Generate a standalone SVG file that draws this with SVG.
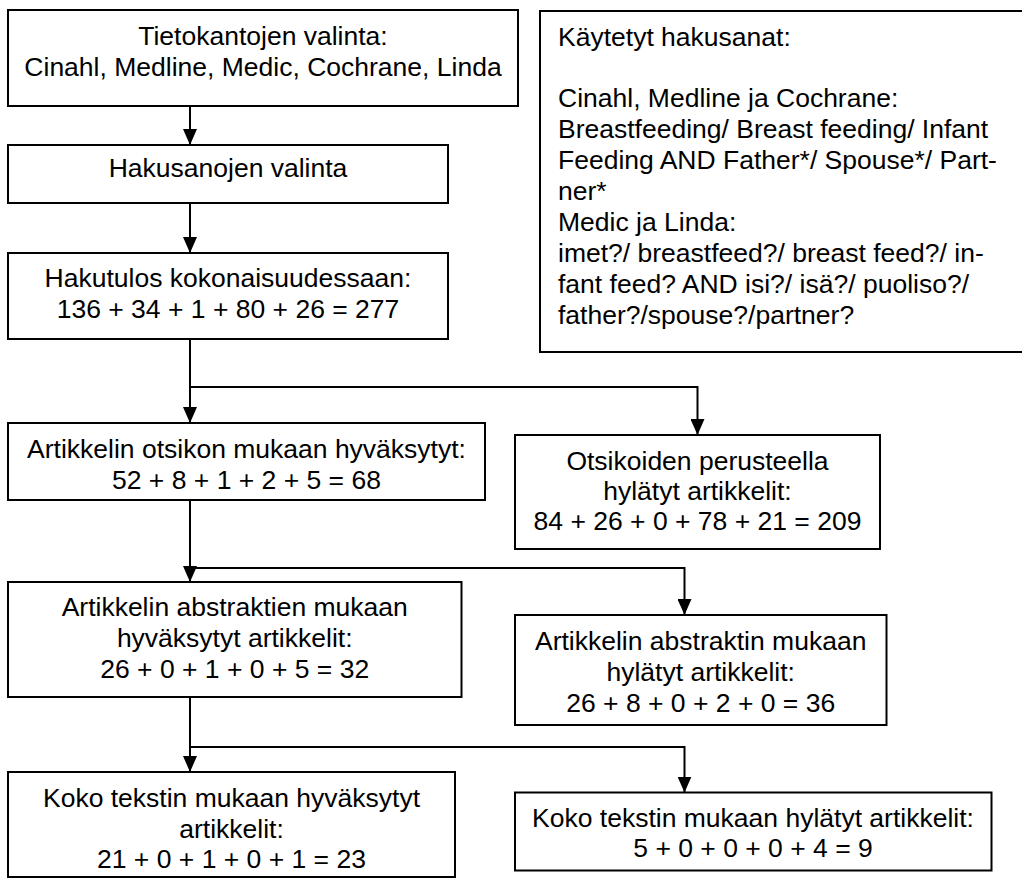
<svg xmlns="http://www.w3.org/2000/svg" width="1022" height="878" viewBox="0 0 1022 878">
<style>
rect.box{fill:#fff;stroke:#000;stroke-width:2}
text{font-family:"Liberation Sans",Arial,sans-serif;font-size:26.5px;fill:#000}
text.c{text-anchor:middle}
.conn path{fill:none;stroke:#000;stroke-width:2}
</style>
<defs>
<marker id="ah" viewBox="0 0 16 14" refX="16" refY="7" markerWidth="16" markerHeight="14" orient="auto" markerUnits="userSpaceOnUse">
<path d="M0,0 L16,7 L0,14 z" fill="#000"/>
</marker>
</defs>
<rect width="1022" height="878" fill="#fff"/>
<g class="conn" id="connectors">
<path d="M190,106 V145" marker-end="url(#ah)"/>
<path d="M190,203 V253" marker-end="url(#ah)"/>
<path d="M190,339 V423" marker-end="url(#ah)"/>
<path d="M190,387 H697.5 V435" marker-end="url(#ah)"/>
<path d="M190,500 V582" marker-end="url(#ah)"/>
<path d="M190,568 H684.5 V615" marker-end="url(#ah)"/>
<path d="M190,697 V772" marker-end="url(#ah)"/>
<path d="M190,747 H684.5 V792.5" marker-end="url(#ah)"/>
</g>
<g id="n1">
<rect class="box" x="8" y="10" width="510" height="96"/>
<text class="c" x="263" y="45">Tietokantojen valinta:</text>
<text class="c" x="263" y="76">Cinahl, Medline, Medic, Cochrane, Linda</text>
</g>
<g id="n2">
<rect class="box" x="8" y="145" width="440" height="58"/>
<text class="c" x="228" y="177">Hakusanojen valinta</text>
</g>
<g id="n3">
<rect class="box" x="8" y="253" width="440" height="86"/>
<text class="c" x="228" y="287">Hakutulos kokonaisuudessaan:</text>
<text class="c" x="228" y="318">136 + 34 + 1 + 80 + 26 = 277</text>
</g>
<g id="keywords">
<rect class="box" x="540" y="11" width="490" height="341"/>
<text x="558" y="45.5">Käytetyt hakusanat:</text>
<text x="558" y="107.3">Cinahl, Medline ja Cochrane:</text>
<text x="558" y="138.2">Breastfeeding/ Breast feeding/ Infant</text>
<text x="558" y="169.1">Feeding AND Father*/ Spouse*/ Part-</text>
<text x="558" y="200">ner*</text>
<text x="558" y="230.9">Medic ja Linda:</text>
<text x="558" y="261.8">imet?/ breastfeed?/ breast feed?/ in-</text>
<text x="558" y="292.7">fant feed? AND isi?/ isä?/ puoliso?/</text>
<text x="558" y="323.6">father?/spouse?/partner?</text>
</g>
<g id="n4">
<rect class="box" x="8" y="423" width="477" height="77"/>
<text class="c" x="246.5" y="457.5">Artikkelin otsikon mukaan hyväksytyt:</text>
<text class="c" x="246.5" y="488.5">52 + 8 + 1 + 2 + 5 = 68</text>
</g>
<g id="n5">
<rect class="box" x="515" y="435" width="365" height="114"/>
<text class="c" x="697.5" y="470">Otsikoiden perusteella</text>
<text class="c" x="697.5" y="500">hylätyt artikkelit:</text>
<text class="c" x="697.5" y="530">84 + 26 + 0 + 78 + 21 = 209</text>
</g>
<g id="n6">
<rect class="box" x="8" y="582" width="453.5" height="115"/>
<text class="c" x="234.7" y="616">Artikkelin abstraktien mukaan</text>
<text class="c" x="234.7" y="647">hyväksytyt artikkelit:</text>
<text class="c" x="234.7" y="678">26 + 0 + 1 + 0 + 5 = 32</text>
</g>
<g id="n7">
<rect class="box" x="515" y="615" width="371.5" height="110"/>
<text class="c" x="700.7" y="650">Artikkelin abstraktin mukaan</text>
<text class="c" x="700.7" y="681">hylätyt artikkelit:</text>
<text class="c" x="700.7" y="712">26 + 8 + 0 + 2 + 0 = 36</text>
</g>
<g id="n8">
<rect class="box" x="8" y="772" width="447" height="105"/>
<text class="c" x="231.5" y="807">Koko tekstin mukaan hyväksytyt</text>
<text class="c" x="231.5" y="838">artikkelit:</text>
<text class="c" x="231.5" y="868">21 + 0 + 1 + 0 + 1 = 23</text>
</g>
<g id="n9">
<rect class="box" x="515" y="792.5" width="476.5" height="78"/>
<text class="c" x="753" y="827">Koko tekstin mukaan hylätyt artikkelit:</text>
<text class="c" x="753" y="857">5 + 0 + 0 + 0 + 4 = 9</text>
</g>
</svg>
